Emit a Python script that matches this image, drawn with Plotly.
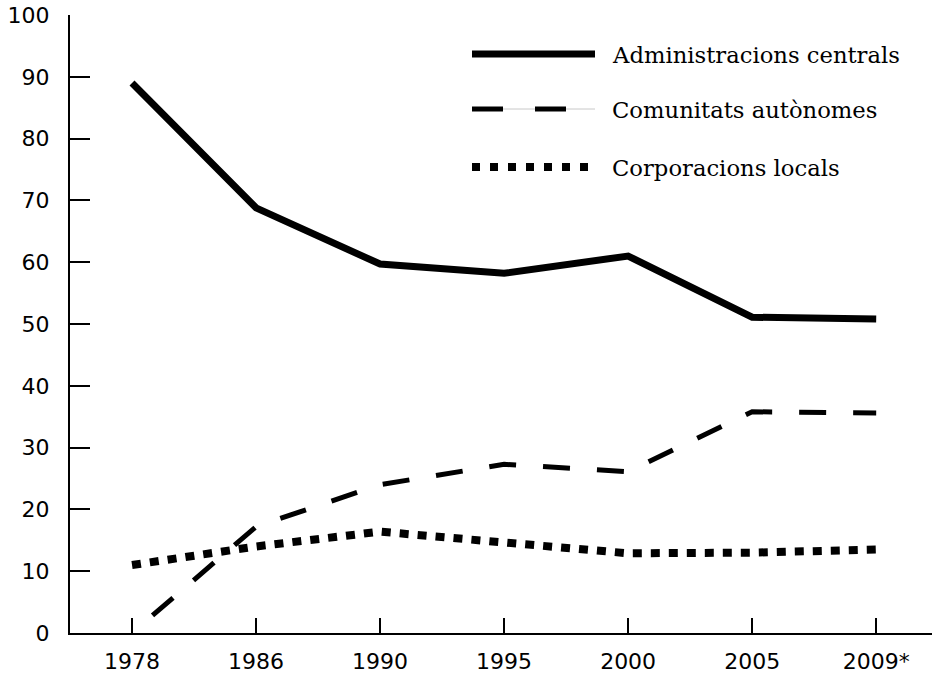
import plotly.graph_objects as go

years = ["1978", "1986", "1990", "1995", "2000", "2005", "2009*"]
centrals = [89.0, 68.8, 59.7, 58.2, 61.0, 51.1, 50.8]
autonomes = [0.0, 17.2, 24.0, 27.3, 26.1, 35.8, 35.6]
locals_ = [11.0, 14.0, 16.4, 14.6, 12.9, 13.0, 13.5]
names = ["Administracions centrals", "Comunitats autònomes", "Corporacions locals"]
y_ticks = list(range(0, 101, 10))

W, H = 932, 674
ML, MR, MT, MB = 70, 0, 15, 41
PW, PH = W - ML - MR, H - MT - MB


def px(x):
    return (x - ML) / PW


def py(y):
    return (H - MB - y) / PH


fig = go.Figure()
fig.add_trace(go.Scatter(x=years, y=centrals, mode="lines", name=names[0],
                         line=dict(color="black", width=7)))
fig.add_trace(go.Scatter(x=years, y=autonomes, mode="lines", name=names[1],
                         line=dict(color="black", width=5, dash="0px,27px,27px,0px")))
fig.add_trace(go.Scatter(x=years, y=locals_, mode="lines", name=names[2],
                         line=dict(color="black", width=8, dash="9px,9px")))

# custom legend
legend_rows = [
    (54, dict(color="black", width=7), None),
    (109, dict(color="black", width=5, dash="31px,32px"), dict(color="#c8c8c8", width=1)),
    (167, dict(color="black", width=8, dash="8px,10px"), None),
]
shapes = []
annotations = []
for (yy, ln, under), name in zip(legend_rows, names):
    if under:
        shapes.append(dict(type="line", xref="paper", yref="paper",
                           x0=px(472), x1=px(595), y0=py(yy), y1=py(yy), line=under))
    shapes.append(dict(type="line", xref="paper", yref="paper",
                       x0=px(472), x1=px(595), y0=py(yy), y1=py(yy), line=ln))
    annotations.append(dict(xref="paper", yref="paper", x=px(610), y=py(yy + 1),
                            xanchor="left", yanchor="middle", showarrow=False,
                            text=name,
                            font=dict(family="DejaVu Serif", size=22.7, color="black")))

fig.update_layout(
    width=W, height=H,
    margin=dict(l=ML, r=MR, t=MT, b=MB, autoexpand=False),
    paper_bgcolor="white", plot_bgcolor="white",
    showlegend=False,
    shapes=shapes, annotations=annotations,
    font=dict(family="DejaVu Sans", color="black"),
)
fig.update_xaxes(
    type="category", range=[-0.5, 6.45],
    showline=True, linecolor="black", linewidth=2,
    ticks="inside", ticklen=15, tickwidth=1.5, tickcolor="black",
    showgrid=False, zeroline=False,
    tickfont=dict(family="DejaVu Sans", size=22, color="black"),
    ticklabelstandoff=8, automargin=False,
)
fig.update_yaxes(
    range=[0, 100], tickvals=y_ticks,
    showline=True, linecolor="black", linewidth=2,
    ticks="inside", ticklen=20, tickwidth=2, tickcolor="black",
    showgrid=False, zeroline=False,
    tickfont=dict(family="DejaVu Sans", size=22, color="black"),
    ticklabelstandoff=14, automargin=False,
)

fig.write_html("out.html", config={"displayModeBar": False},
               post_script="document.body.style.margin='0px';")
